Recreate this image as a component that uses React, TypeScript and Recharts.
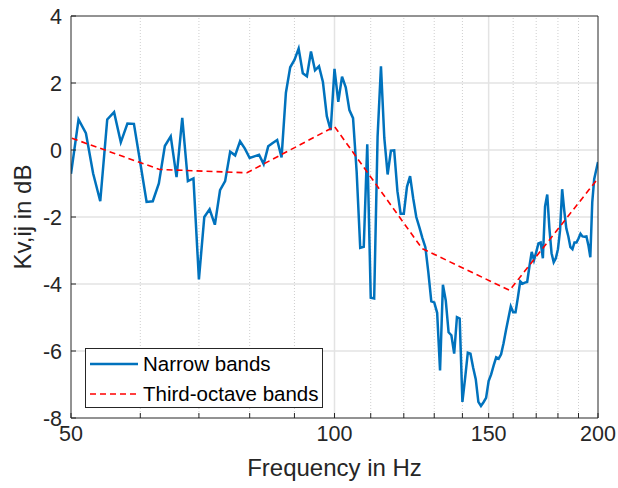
import React from 'react'
import { LineChart, Line, XAxis, YAxis, ReferenceLine } from 'recharts'

// narrow-band spectrum, 1 Hz resolution
const narrowFreq = [
  50, 51, 52, 53, 54, 55, 56, 57, 58, 59,
  60, 61, 62, 63, 64, 65, 66, 67, 68, 69,
  70, 71, 72, 73, 74, 75, 76, 77, 78, 79,
  80, 81, 82, 83, 84, 85, 86, 87, 88, 89,
  90, 91, 92, 93, 94, 95, 96, 97, 98, 99,
  100, 101, 102, 103, 104, 105, 106, 107, 108, 109,
  110, 111, 112, 113, 114, 115, 116, 117, 118, 119,
  120, 121, 122, 123, 124, 125, 126, 127, 128, 129,
  130, 131, 132, 133, 134, 135, 136, 137, 138, 139,
  140, 141, 142, 143, 144, 145, 146, 147, 148, 149,
  150, 151, 152, 153, 154, 155, 156, 157, 158, 159,
  160, 161, 162, 163, 164, 165, 166, 167, 168, 169,
  170, 171, 172, 173, 174, 175, 176, 177, 178, 179,
  180, 181, 182, 183, 184, 185, 186, 187, 188, 189,
  190, 191, 192, 193, 194, 195, 196, 197, 198, 199,
  200,
]

const narrowKv = [
  -0.71, 0.91, 0.5, -0.7, -1.53, 0.91, 1.13, 0.23, 0.79, 0.78,
  -0.39, -1.55, -1.53, -1.0, 0.12, 0.41, -0.81, 0.96, -0.93, -0.85,
  -3.86, -2.0, -1.77, -2.23, -1.2, -0.93, -0.05, -0.16, 0.26, 0.04,
  -0.24, -0.19, -0.14, -0.42, 0.11, 0.21, 0.3, -0.22, 1.71, 2.47,
  2.69, 3.03, 2.29, 2.2, 2.94, 2.38, 2.5, 2.03, 1.01, 0.59,
  2.42, 1.44, 2.19, 1.87, 1.19, 0.95, -0.65, -2.92, -2.89, 0.17,
  -4.41, -4.43, 0.39, 2.5, 0.36, -0.73, -0.02, -0.01, -1.23, -1.9,
  -1.9, -1.1, -0.78, -1.44, -2.0, -2.3, -2.62, -2.9, -3.65, -4.52,
  -4.55, -4.86, -6.58, -4.02, -4.49, -5.44, -5.53, -6.08, -4.99, -5.03,
  -7.52, -6.81, -6.05, -6.08, -6.49, -6.84, -7.52, -7.64, -7.53, -7.4,
  -6.9, -6.7, -6.43, -6.19, -6.23, -6.1, -5.77, -5.38, -5.02, -4.67,
  -4.84, -4.84, -4.4, -3.92, -3.99, -3.96, -3.94, -3.47, -3.04, -3.29,
  -3.05, -2.79, -2.76, -3.23, -1.68, -1.33, -2.34, -3.08, -3.35, -3.23,
  -2.96, -2.4, -1.17, -1.8, -2.34, -2.58, -2.9, -2.96, -2.76, -2.76,
  -2.64, -2.5, -2.58, -2.59, -2.58, -2.84, -3.2, -1.56, -0.87, -0.61,
  -0.36,
]

// third-octave band centres
const thirdFreq = [50.12, 63.1, 79.43, 100, 125.89, 158.49, 199.53]
const thirdKv = [0.35, -0.58, -0.68, 0.7, -2.94, -4.19, -0.88]

const xTicks = [50, 60, 70, 80, 90, 100, 110, 120, 130, 140, 150, 160, 170, 180, 190, 200]
const xLabelled = [50, 100, 150, 200]
const yTicks = [-8, -6, -4, -2, 0, 2, 4]

const narrowData = narrowFreq.map((f, i) => ({ f, kv: narrowKv[i] }))
const thirdData = thirdFreq.map((f, i) => ({ f, kv: thirdKv[i] }))

const AXIS = '#262626'
const FONT = '"Liberation Sans", Arial, Helvetica, sans-serif'
const BLUE = '#0072BD'
const RED = '#FF0000'

function LegendBox() {
  const row = { display: 'flex', alignItems: 'center', height: 30 }
  return (
    <div
      style={{
        position: 'absolute',
        left: 85,
        top: 348,
        width: 238,
        height: 60,
        border: '1px solid #262626',
        background: '#fff',
        fontFamily: FONT,
        fontSize: 20.5,
        color: '#000',
        boxSizing: 'border-box',
        paddingLeft: 4,
      }}
    >
      <div style={row}>
        <svg width={53} height={10} style={{ flex: 'none' }}>
          <line x1={0} y1={5} x2={48} y2={5} stroke={BLUE} strokeWidth={2.5} />
        </svg>
        <span>Narrow bands</span>
      </div>
      <div style={row}>
        <svg width={53} height={10} style={{ flex: 'none' }}>
          <line x1={0} y1={5} x2={48} y2={5} stroke={RED} strokeWidth={1.6} strokeDasharray="6 4" />
        </svg>
        <span>Third-octave bands</span>
      </div>
    </div>
  )
}

export default function App() {
  // pinned to the viewport corner so the figure covers the whole page without scrollbars
  return (
    <div
      style={{
        position: 'fixed',
        left: 0,
        top: 0,
        width: 618,
        height: 488,
        overflow: 'hidden',
        background: '#fff',
        fontFamily: FONT,
      }}
    >
      <LineChart width={618} height={488} margin={{ top: 15, right: 19, bottom: 0, left: 0 }}>
        <XAxis
          dataKey="f"
          type="number"
          scale="log"
          domain={[50, 200]}
          allowDataOverflow
          ticks={xTicks}
          interval={0}
          tickFormatter={(v: number) => (xLabelled.includes(v) ? String(v) : '')}
          tickSize={-5}
          tickMargin={13}
          height={70}
          stroke={AXIS}
          tick={{ fill: AXIS, fontSize: 21.5 }}
          label={{ value: 'Frequency in Hz', position: 'insideBottom', offset: 12, fill: AXIS, fontSize: 24 }}
        />
        <XAxis
          xAxisId="top"
          orientation="top"
          dataKey="f"
          type="number"
          scale="log"
          domain={[50, 200]}
          allowDataOverflow
          ticks={xTicks}
          interval={0}
          tick={false}
          tickSize={-5}
          height={1}
          stroke={AXIS}
        />
        <YAxis
          domain={[-8, 4]}
          ticks={yTicks}
          interval={0}
          tickSize={-5}
          tickMargin={14}
          width={71}
          stroke={AXIS}
          tick={{ fill: AXIS, fontSize: 21.5 }}
          label={{
            value: 'Kv,ij in dB',
            angle: -90,
            position: 'insideLeft',
            offset: 22,
            fill: AXIS,
            fontSize: 24,
            style: { textAnchor: 'middle' },
          }}
        />
        <YAxis
          yAxisId="right"
          orientation="right"
          domain={[-8, 4]}
          ticks={yTicks}
          interval={0}
          tick={false}
          tickSize={-5}
          width={1}
          stroke={AXIS}
        />

        {/* horizontal grid */}
        {yTicks.slice(1, -1).map((v) => (
          <ReferenceLine key={'y' + v} y={v} stroke="#e3e3e3" strokeWidth={1.5} />
        ))}
        {/* vertical grid: solid at labelled values, dotted in between */}
        {xTicks.slice(1, -1).map((v) =>
          xLabelled.includes(v) ? (
            <ReferenceLine key={'x' + v} x={v} stroke="#e3e3e3" strokeWidth={1.5} />
          ) : (
            <ReferenceLine key={'x' + v} x={v} stroke="#cfcfcf" strokeWidth={1} strokeDasharray="1 2" />
          ),
        )}

        <Line
          data={narrowData}
          dataKey="kv"
          type="linear"
          stroke={BLUE}
          strokeWidth={2.5}
          dot={false}
          isAnimationActive={false}
          name="Narrow bands"
        />
        <Line
          data={thirdData}
          dataKey="kv"
          type="linear"
          stroke={RED}
          strokeWidth={1.6}
          strokeDasharray="6 4"
          dot={false}
          isAnimationActive={false}
          name="Third-octave bands"
        />
      </LineChart>
      <LegendBox />
    </div>
  )
}
